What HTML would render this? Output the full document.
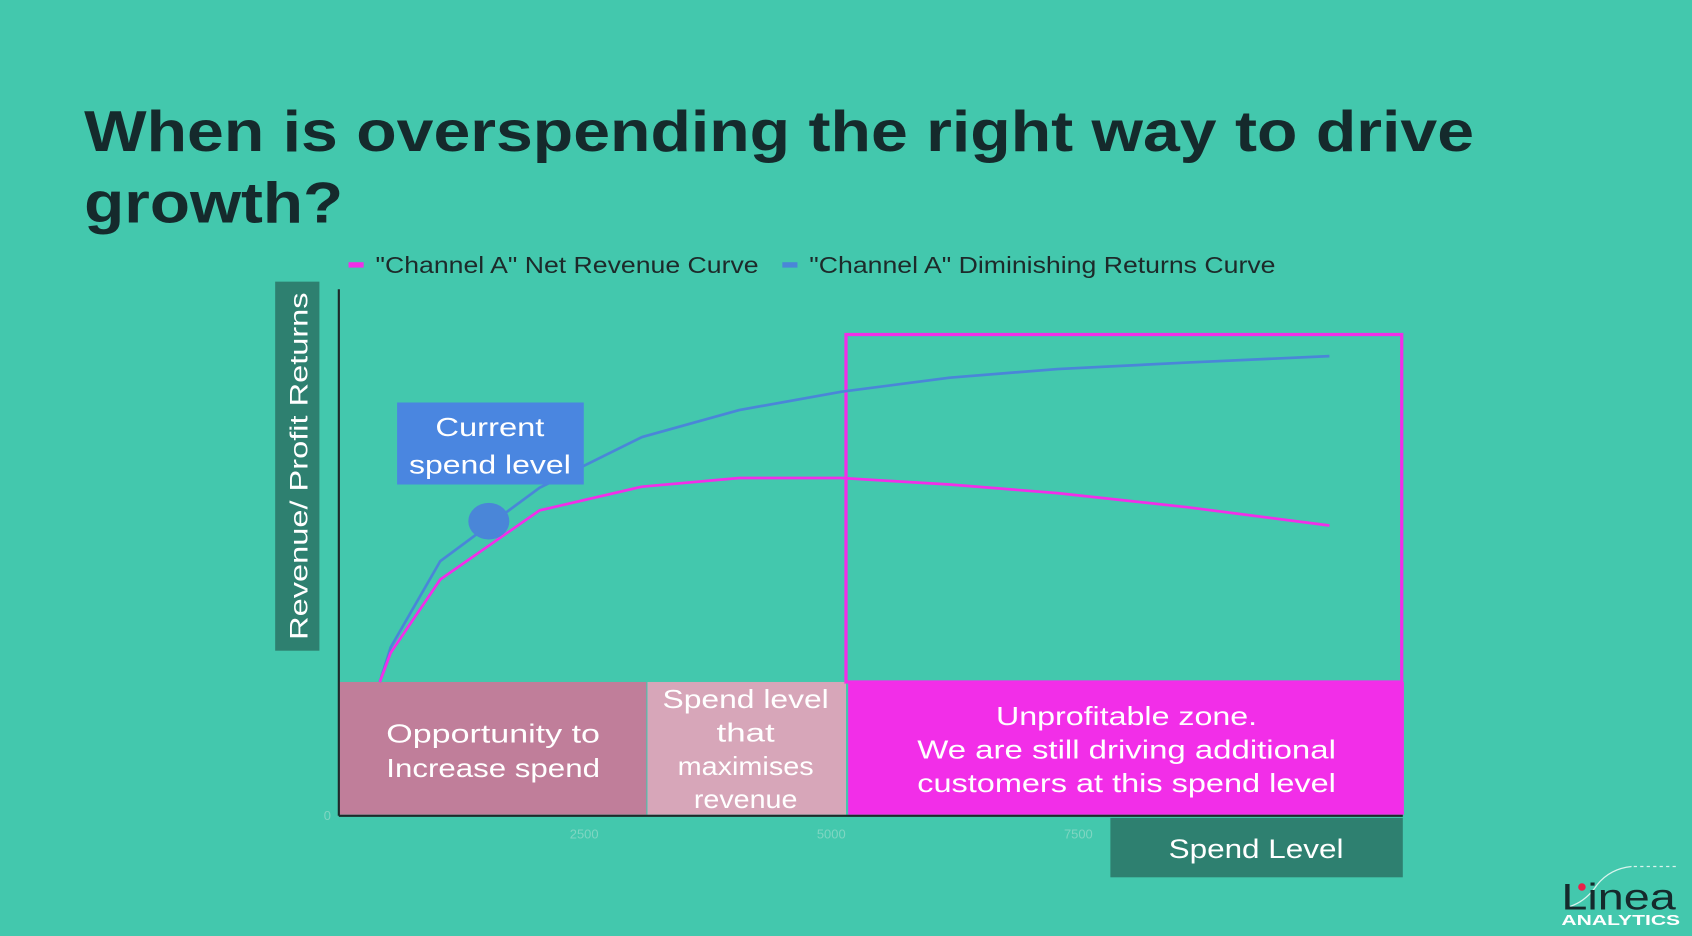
<!DOCTYPE html>
<html><head><meta charset="utf-8"><style>
html,body{margin:0;padding:0;background:#43c8ad;}
svg{display:block;}
text{font-family:"Liberation Sans",sans-serif;}
</style></head><body>
<svg width="1692" height="936" viewBox="0 0 1568 867.4" preserveAspectRatio="none" xmlns="http://www.w3.org/2000/svg">
<rect width="1568" height="868" fill="#43c8ad"/>
<text x="78" y="140" font-size="53" font-weight="bold" fill="#152a2c" textLength="1288" lengthAdjust="spacingAndGlyphs">When is overspending the right way to drive</text>
<text x="78" y="206" font-size="53" font-weight="bold" fill="#152a2c" textLength="240" lengthAdjust="spacingAndGlyphs">growth?</text>
<rect x="323" y="243" width="14" height="5" fill="#f22ee8"/>
<text x="348" y="253" font-size="21" fill="#1d2a2a" textLength="355" lengthAdjust="spacingAndGlyphs">"Channel A" Net Revenue Curve</text>
<rect x="725" y="243" width="14" height="5" fill="#4a86d8"/>
<text x="750" y="253" font-size="21" fill="#1d2a2a" textLength="432" lengthAdjust="spacingAndGlyphs">"Channel A" Diminishing Returns Curve</text>
<rect x="255" y="261" width="41" height="342" fill="#2e8070"/>
<text transform="translate(285,432) rotate(-90)" text-anchor="middle" font-size="23" fill="#fff" textLength="322" lengthAdjust="spacingAndGlyphs">Revenue/ Profit  Returns</text>
<rect x="314" y="632" width="285" height="123" fill="#c07e9a"/>
<rect x="600" y="632" width="184" height="123" fill="#d7a6b9"/>
<rect x="786" y="632" width="515" height="123" fill="#f22ee8"/>
<rect x="784" y="310" width="515" height="322" fill="none" stroke="#f22ee8" stroke-width="3"/>
<line x1="314" y1="268" x2="314" y2="756" stroke="#1d2a2a" stroke-width="2"/>
<line x1="314" y1="756" x2="1300" y2="756" stroke="#1d2a2a" stroke-width="2"/>
<polyline fill="none" stroke="#4a86d8" stroke-width="2.5" points="352,632 362,600 408,520 500,452 595,405 685,380 780,363 880,350 980,342 1100,336 1232,330"/>
<polyline fill="none" stroke="#f22ee8" stroke-width="2.5" points="352,632 362,605 408,537 500,473 595,451 685,443 780,443 880,449 980,457 1100,470 1232,487"/>
<ellipse cx="453" cy="483" rx="19" ry="17" fill="#4a86d8"/>
<rect x="368" y="373" width="173" height="76" fill="#4a86e0"/>
<text x="454" y="404" text-anchor="middle" font-size="24" fill="#fff" textLength="101" lengthAdjust="spacingAndGlyphs">Current</text>
<text x="454" y="439" text-anchor="middle" font-size="24" fill="#fff" textLength="150" lengthAdjust="spacingAndGlyphs">spend level</text>
<g font-size="24" fill="#fff" text-anchor="middle">
<text x="457" y="688" textLength="198" lengthAdjust="spacingAndGlyphs">Opportunity to</text>
<text x="457" y="720" textLength="198" lengthAdjust="spacingAndGlyphs">Increase spend</text>
<text x="691" y="656" textLength="154" lengthAdjust="spacingAndGlyphs">Spend level</text>
<text x="691" y="687" textLength="54" lengthAdjust="spacingAndGlyphs">that</text>
<text x="691" y="718" textLength="126" lengthAdjust="spacingAndGlyphs">maximises</text>
<text x="691" y="749" textLength="96" lengthAdjust="spacingAndGlyphs">revenue</text>
<text x="1044" y="672" textLength="242" lengthAdjust="spacingAndGlyphs">Unprofitable zone.</text>
<text x="1044" y="703" textLength="388" lengthAdjust="spacingAndGlyphs">We are still driving additional</text>
<text x="1044" y="734" textLength="388" lengthAdjust="spacingAndGlyphs">customers at this spend level</text>
</g>
<g font-size="12" fill="#7fd6c2">
<text x="300" y="760">0</text>
<text x="528" y="777">2500</text>
<text x="757" y="777">5000</text>
<text x="986" y="777">7500</text>
</g>
<rect x="1029" y="758" width="271" height="55" fill="#2e8070"/>
<text x="1164" y="795" text-anchor="middle" font-size="25" fill="#fff" textLength="162" lengthAdjust="spacingAndGlyphs">Spend Level</text>
<path d="M1455,840 Q1470,835 1480,820 Q1492,805 1512,803" fill="none" stroke="#d9f4ee" stroke-width="1.2"/>
<line x1="1514" y1="803" x2="1555" y2="803" stroke="#d9f4ee" stroke-width="1.2" stroke-dasharray="3,3"/>
<text x="1447" y="843" font-size="34" fill="#152a2c" textLength="106" lengthAdjust="spacingAndGlyphs">Linea</text>
<circle cx="1466" cy="822" r="3.5" fill="#e8204a"/>
<text x="1447" y="857" font-size="14" font-weight="bold" fill="#fff" textLength="110" lengthAdjust="spacingAndGlyphs">ANALYTICS</text>
</svg>
</body></html>
